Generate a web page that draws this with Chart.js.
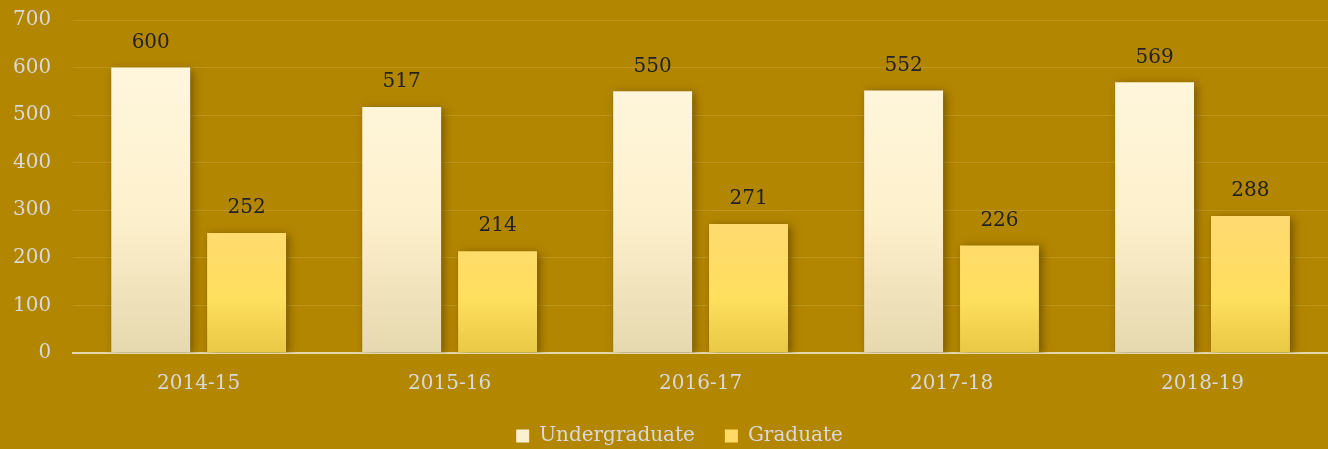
<!DOCTYPE html>
<html>
<head>
<meta charset="utf-8">
<script src="https://cdn.jsdelivr.net/npm/chart.js@4/dist/chart.umd.min.js"></script>
<style>
  html, body { margin:0; padding:0; background:#B38600; }
  #wrap { width:1328px; height:449px; }
</style>
</head>
<body>
<div id="wrap"><canvas id="chart"></canvas></div>
<script>
(function(){
  const years = ['2014-15','2015-16','2016-17','2017-18','2018-19'];
  const undergrad = [600, 517, 550, 552, 569];
  const graduate = [252, 214, 271, 226, 288];

  const FONT = "'DejaVu Serif', serif";

  // per-bar vertical gradients, like the original
  const stops = {
    0: [[0,'#FFF6DC'],[0.5,'#FDF0CC'],[1,'#E6D9AF']],
    1: [[0,'#FFDA72'],[0.6,'#FFDF5E'],[1,'#E9C845']]
  };

  const barLook = {
    id: 'barLook',
    afterLayout(chart){
      // legend sits a bit right of centre in the original
      chart.legend.left += 20;
      chart.legend.right += 20;
    },
    beforeDatasetsDraw(chart){
      const c = chart.ctx;
      chart.data.datasets.forEach((ds, i) => {
        chart.getDatasetMeta(i).data.forEach(bar => {
          const g = c.createLinearGradient(0, bar.y, 0, bar.base);
          stops[i].forEach(s => g.addColorStop(s[0], s[1]));
          bar.options.backgroundColor = g;
        });
      });
      c.save();
      c.shadowColor = 'rgba(60,40,0,0.55)';
      c.shadowBlur = 9;
      c.shadowOffsetX = 3;
      c.shadowOffsetY = 2;
    },
    afterDatasetsDraw(chart){
      const c = chart.ctx;
      c.restore();
      c.save();
      c.font = "20px " + FONT;
      c.fillStyle = '#222';
      c.textAlign = 'center';
      c.textBaseline = 'middle';
      chart.data.datasets.forEach((ds, i) => {
        chart.getDatasetMeta(i).data.forEach((bar, j) => {
          c.fillText(ds.data[j], bar.x, bar.y - 25);
        });
      });
      c.restore();
    }
  };

  new Chart(document.getElementById('chart'), {
    type: 'bar',
    data: {
      labels: years,
      datasets: [
        { label:'Undergraduate', data: undergrad, backgroundColor:'#FBF0CF',
          categoryPercentage:0.764, barPercentage:0.823 },
        { label:'Graduate', data: graduate, backgroundColor:'#FFDB66',
          categoryPercentage:0.764, barPercentage:0.823 }
      ]
    },
    options: {
      responsive:true, maintainAspectRatio:false, animation:false,
      layout: { padding: { top:0, right:0, left:-9, bottom:-7 } },
      plugins: {
        tooltip: { enabled:false },
        legend: {
          position:'bottom',
          labels: { color:'#D9D9D9', font:{ family:FONT, size:20 }, boxWidth:13, boxHeight:13, padding:30 }
        }
      },
      scales: {
        x: {
          grid: { display:false },
          border: { color:'#E3D6A9', width:2 },
          ticks: { color:'#D9D9D9', font:{ family:FONT, size:20 }, padding:11 },
          afterFit(s){ s.height -= 11; }
        },
        y: {
          min:0, max:700,
          ticks: { stepSize:100, color:'#D9D9D9', font:{ family:FONT, size:20 }, padding:22 },
          grid: { color:'rgba(255,255,255,0.12)', lineWidth:1, drawTicks:false },
          border: { display:false },
          afterFit(s){ s.paddingTop = 20; s.paddingBottom = 0; }
        }
      }
    },
    plugins: [barLook]
  });
})();
</script>
</body>
</html>
